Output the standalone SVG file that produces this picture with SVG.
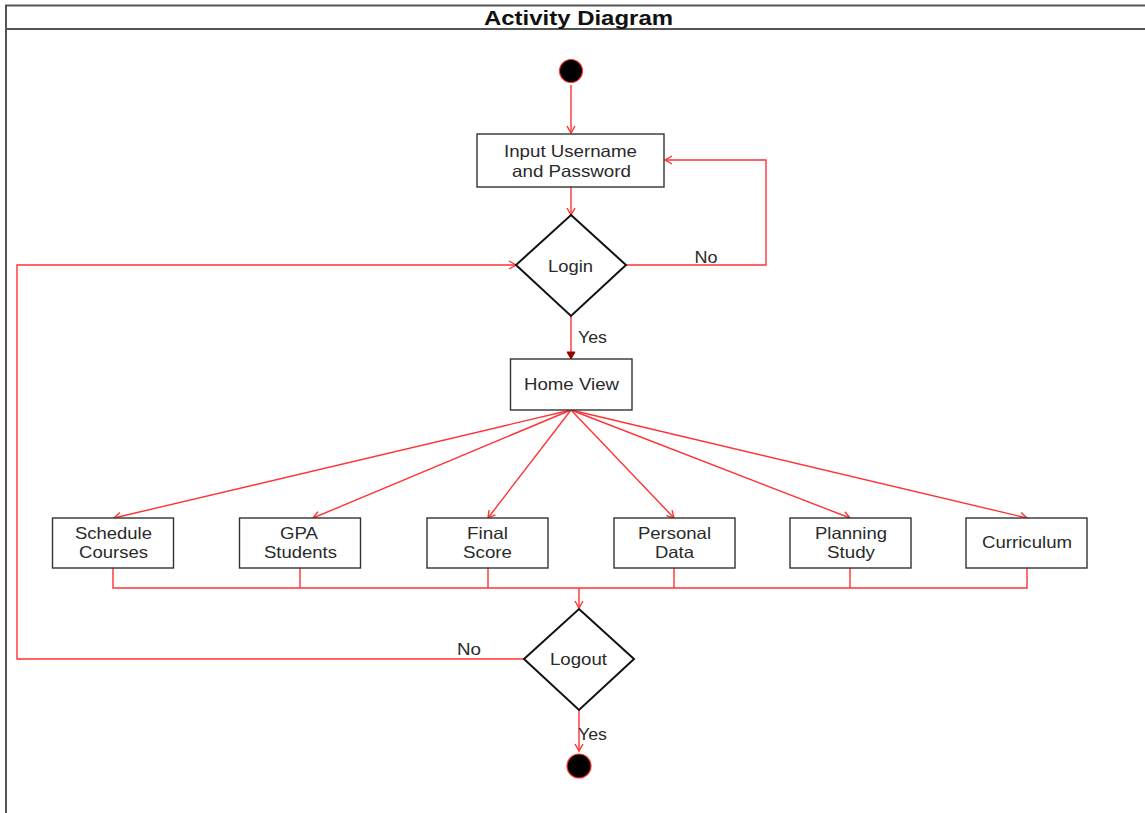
<svg xmlns="http://www.w3.org/2000/svg" width="1145" height="813" viewBox="0 0 1145 813">
<style>
.t{font-family:"Liberation Sans",Arial,sans-serif;font-size:16.5px;fill:#2a2a2a;text-anchor:middle}
.title{font-family:"Liberation Sans",Arial,sans-serif;font-size:21px;font-weight:bold;fill:#111;text-anchor:middle}
.box{fill:#fff;stroke:#333;stroke-width:1.4}
.dia{fill:#fff;stroke:#111;stroke-width:2}
.c{fill:none;stroke:#ff3333;stroke-width:1.4}
.frame{fill:none;stroke:#555;stroke-width:2}
</style>
<defs>
<marker id="open" markerUnits="userSpaceOnUse" markerWidth="12" markerHeight="12" viewBox="0 0 12 12" refX="10" refY="6" orient="auto">
<path d="M3,2 L10,6 L3,10" fill="none" stroke="#ff3333" stroke-width="1.4"/>
</marker>
<marker id="fill" markerUnits="userSpaceOnUse" markerWidth="12" markerHeight="12" viewBox="0 0 12 12" refX="10" refY="6" orient="auto">
<path d="M3,2 L10,6 L3,10 Z" fill="#990000" stroke="#990000" stroke-width="1"/>
</marker>
</defs>
<rect width="1145" height="813" fill="#fff"/>
<g id="frame">
<path class="frame" d="M6,813 L6,5.5 L1145,5.5 M6,29 L1145,29"/>
<text class="title" x="578.5" y="25" textLength="189" lengthAdjust="spacingAndGlyphs">Activity Diagram</text>
</g>
<g id="connectors">
<path class="c" d="M571,85 L571,133" marker-end="url(#open)"/>
<path class="c" d="M571,187 L571,215" marker-end="url(#open)"/>
<path class="c" d="M626,265 L766,265 L766,160 L665,160" marker-end="url(#open)"/>
<text class="t" x="706" y="263" textLength="23" lengthAdjust="spacingAndGlyphs">No</text>
<path class="c" d="M571,316 L571,359" marker-end="url(#fill)"/>
<text class="t" x="592.5" y="343" textLength="29" lengthAdjust="spacingAndGlyphs">Yes</text>
<path class="c" d="M571,410 L114,518" marker-end="url(#open)"/>
<path class="c" d="M571,410 L313,518" marker-end="url(#open)"/>
<path class="c" d="M571,410 L488,518" marker-end="url(#open)"/>
<path class="c" d="M571,410 L674,518" marker-end="url(#open)"/>
<path class="c" d="M571,410 L850,518" marker-end="url(#open)"/>
<path class="c" d="M571,410 L1027,518" marker-end="url(#open)"/>
<path class="c" d="M113,568 L113,588 L1027,588 L1027,568 M300,568 L300,588 M488,568 L488,588 M674,568 L674,588 M850,568 L850,588"/>
<path class="c" d="M579,588 L579,608" marker-end="url(#open)"/>
<path class="c" d="M524,659 L17,659 L17,265 L516,265" marker-end="url(#open)"/>
<text class="t" x="469" y="655" textLength="24" lengthAdjust="spacingAndGlyphs">No</text>
<path class="c" d="M579,710 L579,751" marker-end="url(#open)"/>
<text class="t" x="592.5" y="740" textLength="29" lengthAdjust="spacingAndGlyphs">Yes</text>
</g>
<g id="start"><circle cx="571" cy="71" r="11.5" fill="#000" stroke="#ff3333" stroke-width="1.2"/></g>
<g id="input">
<rect class="box" x="477" y="134" width="187" height="53"/>
<text class="t" x="570.5" y="157" textLength="133" lengthAdjust="spacingAndGlyphs">Input Username</text>
<text class="t" x="571.5" y="177" textLength="119" lengthAdjust="spacingAndGlyphs">and Password</text>
</g>
<g id="login">
<path class="dia" d="M571,215 L626,265 L571,316 L516,265 Z"/>
<text class="t" x="570.5" y="272" textLength="45" lengthAdjust="spacingAndGlyphs">Login</text>
</g>
<g id="home">
<rect class="box" x="510.5" y="359" width="121.5" height="51"/>
<text class="t" x="571.5" y="390" textLength="95" lengthAdjust="spacingAndGlyphs">Home View</text>
</g>
<g id="schedule">
<rect class="box" x="52.5" y="518" width="121" height="50"/>
<text class="t" x="113.5" y="539" textLength="77" lengthAdjust="spacingAndGlyphs">Schedule</text>
<text class="t" x="113.5" y="558" textLength="69" lengthAdjust="spacingAndGlyphs">Courses</text>
</g>
<g id="gpa">
<rect class="box" x="239.5" y="518" width="121" height="50"/>
<text class="t" x="299" y="539" textLength="38" lengthAdjust="spacingAndGlyphs">GPA</text>
<text class="t" x="300.5" y="558" textLength="73" lengthAdjust="spacingAndGlyphs">Students</text>
</g>
<g id="final">
<rect class="box" x="427" y="518" width="121" height="50"/>
<text class="t" x="487.5" y="539" textLength="41" lengthAdjust="spacingAndGlyphs">Final</text>
<text class="t" x="487.5" y="558" textLength="49" lengthAdjust="spacingAndGlyphs">Score</text>
</g>
<g id="personal">
<rect class="box" x="614" y="518" width="121" height="50"/>
<text class="t" x="674.5" y="539" textLength="73" lengthAdjust="spacingAndGlyphs">Personal</text>
<text class="t" x="674.5" y="558" textLength="39" lengthAdjust="spacingAndGlyphs">Data</text>
</g>
<g id="planning">
<rect class="box" x="790" y="518" width="121" height="50"/>
<text class="t" x="851" y="539" textLength="72" lengthAdjust="spacingAndGlyphs">Planning</text>
<text class="t" x="851" y="558" textLength="48" lengthAdjust="spacingAndGlyphs">Study</text>
</g>
<g id="curriculum">
<rect class="box" x="966" y="518" width="121" height="50"/>
<text class="t" x="1027" y="548" textLength="90" lengthAdjust="spacingAndGlyphs">Curriculum</text>
</g>
<g id="logout">
<path class="dia" d="M579,609 L634,659 L579,710 L524,659 Z"/>
<text class="t" x="578.5" y="665" textLength="57" lengthAdjust="spacingAndGlyphs">Logout</text>
</g>
<g id="end"><circle cx="579" cy="766" r="12" fill="#000" stroke="#ff3333" stroke-width="1.2"/></g>
</svg>
